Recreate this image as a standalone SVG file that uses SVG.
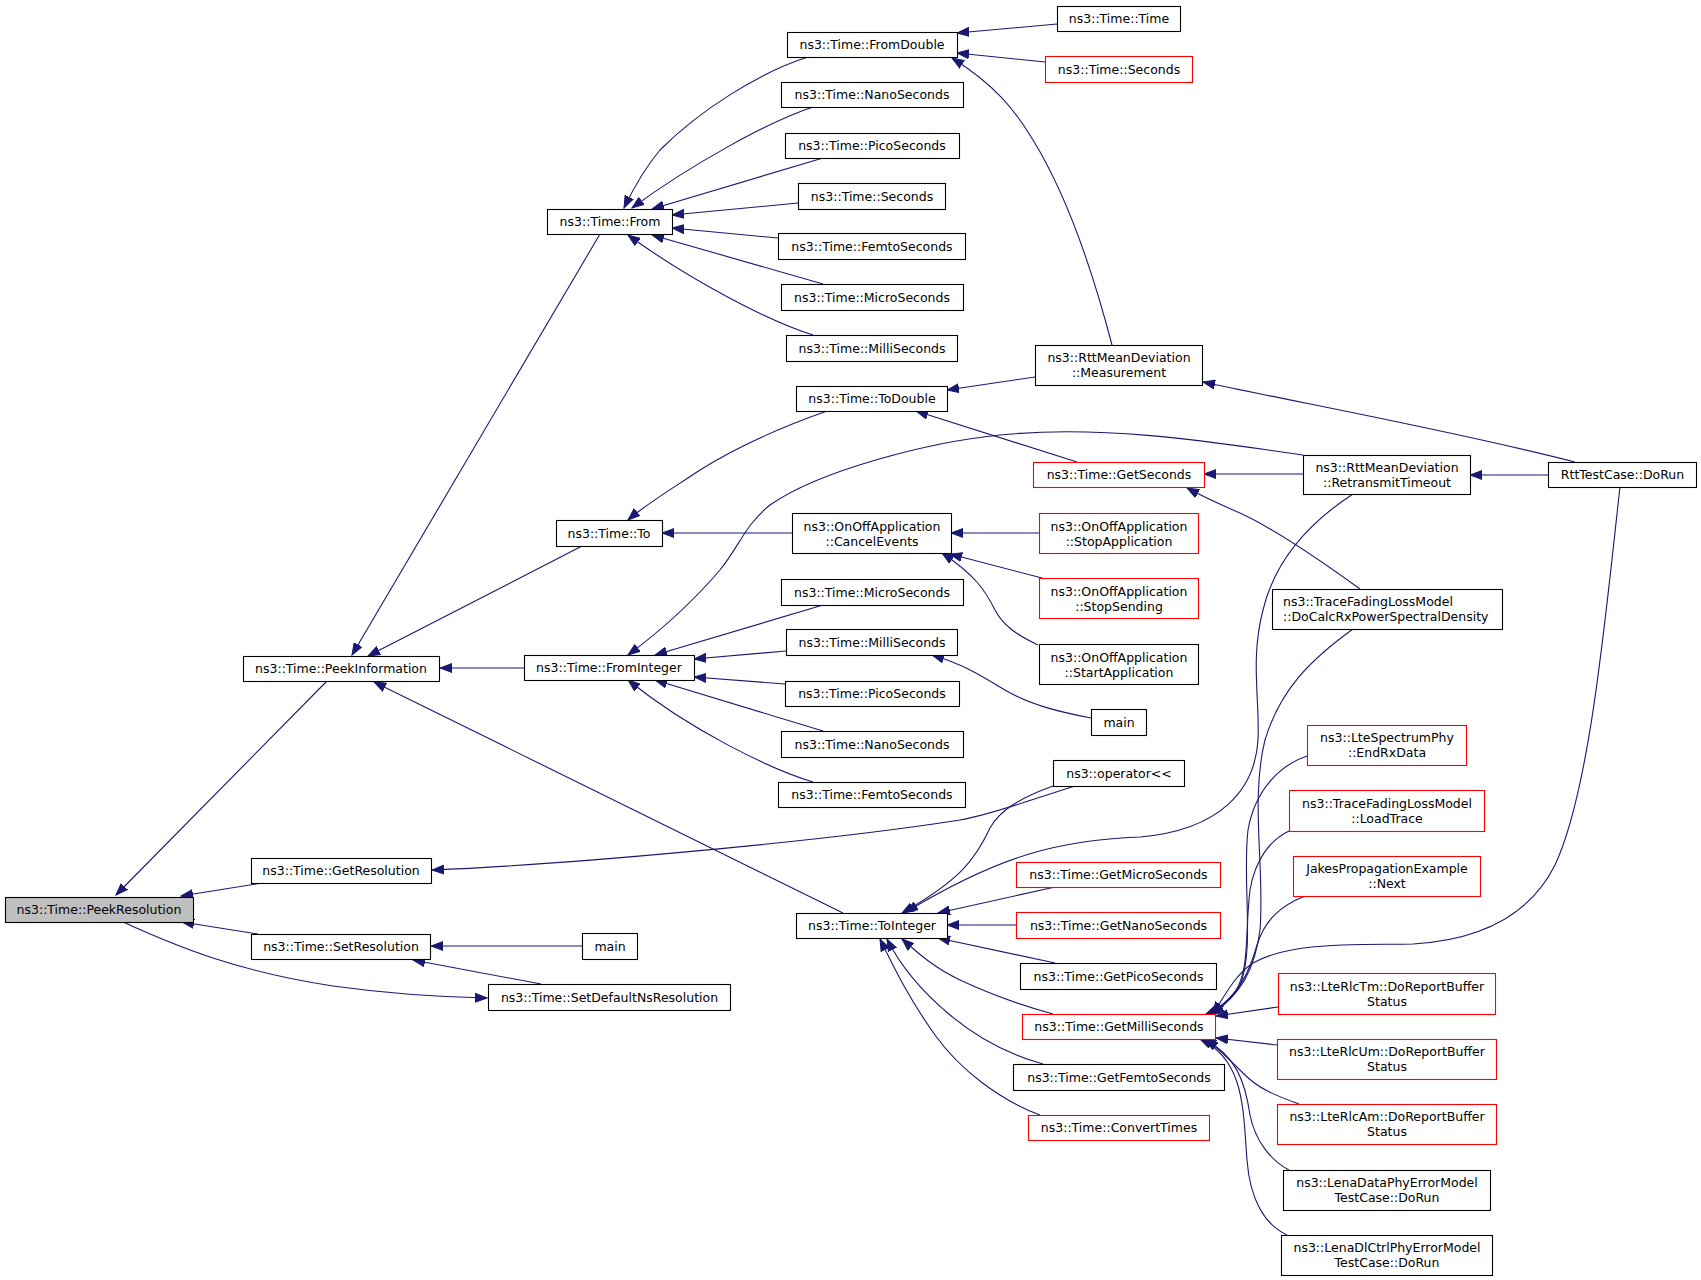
<svg xmlns="http://www.w3.org/2000/svg" width="1701" height="1280" viewBox="0 0 1701 1280">
<style>
.n rect{fill:#fff;stroke:#000;stroke-width:1.1}
.n.r rect{stroke:#ff0000}
.n.g rect{fill:#bfbfbf}
text{font-family:"DejaVu Sans",sans-serif;font-size:12.5px;text-anchor:middle;fill:#000}
text.l{text-anchor:start}
#edges path{fill:none;stroke:#191970;stroke-width:1.1;marker-end:url(#a)}
</style>
<defs>
<marker id="a" markerUnits="userSpaceOnUse" markerWidth="13" markerHeight="10" viewBox="0 0 13 10" refX="12" refY="5" orient="auto"><path d="M0,0.5 L12,5 L0,9.5 z" fill="#191970" stroke="#191970" stroke-width="1"/></marker>
</defs>
<rect width="1701" height="1280" fill="#fff"/>
<g id="edges">
<path d="M327,681 L116,895"/>
<path d="M262,883 L181,896"/>
<path d="M258,934 L182,922"/>
<path d="M123,922 C180,948 240,972 333,986 C390,994 440,997 487,998"/>
<path d="M582,946 L431,946"/>
<path d="M541,984 L413,960"/>
<path d="M1075,786 C1030,800 990,815 960,820 C820,842 560,865 432,870"/>
<path d="M600,234 L352,655"/>
<path d="M582,546 L368,656"/>
<path d="M524,668 L440,668"/>
<path d="M843,913 L374,682"/>
<path d="M808,57 C760,72 700,110 660,150 C645,168 635,185 624,208"/>
<path d="M813,107 C770,121 690,165 632,208"/>
<path d="M823,158 L652,209"/>
<path d="M798,203 L672,215"/>
<path d="M778,238 L672,228"/>
<path d="M823,284 L652,235"/>
<path d="M813,335 C770,322 690,280 628,235"/>
<path d="M1057,24 L957,33"/>
<path d="M1045,62 L957,53"/>
<path d="M1112,345 C1095,280 1070,200 1033,140 C1015,110 995,85 952,58"/>
<path d="M827,411 C790,424 740,445 700,470 C670,490 645,505 628,520"/>
<path d="M792,533 L662,533"/>
<path d="M1035,377 L947,390"/>
<path d="M1077,462 L916,411"/>
<path d="M1303,455 C1200,440 1100,425 1000,435 C930,442 820,470 770,505 C745,525 740,545 720,570 C690,605 655,635 628,655"/>
<path d="M823,605 L655,655"/>
<path d="M786,651 L694,659"/>
<path d="M785,684 L694,677"/>
<path d="M823,731 L655,680"/>
<path d="M813,782 C770,769 690,730 628,680"/>
<path d="M1039,533 L951,533"/>
<path d="M1042,578 L950,554"/>
<path d="M1038,645 C1015,634 1003,625 995,610 C985,590 975,575 942,553"/>
<path d="M1091,718 C1060,712 1030,705 1005,690 C980,675 965,665 932,655"/>
<path d="M1575,462 C1450,430 1300,403 1203,382"/>
<path d="M1303,474 L1204,474"/>
<path d="M1360,589 C1320,560 1270,525 1233,510 C1215,502 1200,495 1187,488"/>
<path d="M1548,475 L1470,475"/>
<path d="M1053,786 C1020,798 1000,810 990,828 C975,860 960,880 902,913"/>
<path d="M1353,494 C1310,522 1275,560 1263,610 C1250,660 1260,700 1258,740 C1255,790 1220,830 1140,837 C1060,840 1000,855 906,912"/>
<path d="M1055,887 L938,913"/>
<path d="M1016,925 L947,925"/>
<path d="M1055,963 L938,938"/>
<path d="M1053,1014 C1020,1005 990,994 960,980 C935,968 920,955 902,939"/>
<path d="M1043,1064 C1010,1055 980,1040 950,1015 C920,990 900,965 887,939"/>
<path d="M1040,1115 C1000,1100 960,1070 935,1035 C910,1000 895,970 880,939"/>
<path d="M1307,756 C1280,765 1255,790 1248,830 C1242,880 1255,950 1240,985 C1230,1000 1220,1008 1208,1014"/>
<path d="M1289,831 C1270,840 1255,860 1250,890 C1245,930 1250,970 1235,992 C1228,1002 1218,1009 1206,1014"/>
<path d="M1305,896 C1280,906 1265,920 1257,945 C1250,970 1240,995 1210,1014"/>
<path d="M1620,487 C1605,620 1590,790 1555,865 C1530,915 1480,940 1413,944 C1350,945 1290,942 1253,963 C1235,975 1225,995 1213,1014"/>
<path d="M1278,1007 L1216,1016"/>
<path d="M1277,1045 L1216,1038"/>
<path d="M1299,1104 C1280,1097 1260,1090 1245,1075 C1230,1060 1220,1050 1206,1039"/>
<path d="M1289,1170 C1270,1160 1255,1140 1250,1115 C1245,1080 1235,1055 1204,1039"/>
<path d="M1287,1235 C1265,1225 1250,1200 1247,1160 C1243,1110 1245,1060 1200,1039"/>
<path d="M1353,629 C1310,660 1280,690 1265,740 C1250,800 1265,870 1260,930 C1255,970 1240,995 1212,1014"/>
</g>
<g id="n1" class="n g"><rect x="5.5" y="897.5" width="188" height="25"/><text x="99" y="914">ns3::Time::PeekResolution</text></g>
<g id="n2" class="n"><rect x="243.5" y="656.5" width="196" height="25"/><text x="341" y="673">ns3::Time::PeekInformation</text></g>
<g id="n3" class="n"><rect x="251.5" y="858.5" width="180" height="25"/><text x="341" y="875">ns3::Time::GetResolution</text></g>
<g id="n4" class="n"><rect x="251.5" y="934.5" width="179" height="25"/><text x="341" y="951">ns3::Time::SetResolution</text></g>
<g id="n5" class="n"><rect x="547.5" y="209.5" width="125" height="25"/><text x="610" y="226">ns3::Time::From</text></g>
<g id="n6" class="n"><rect x="556.5" y="520.5" width="106" height="26"/><text x="609" y="537.5">ns3::Time::To</text></g>
<g id="n7" class="n"><rect x="524.5" y="655.5" width="170" height="25"/><text x="609" y="672">ns3::Time::FromInteger</text></g>
<g id="n8" class="n"><rect x="796.5" y="913.5" width="151" height="25"/><text x="872" y="930">ns3::Time::ToInteger</text></g>
<g id="n9" class="n"><rect x="582.5" y="933.5" width="55" height="26"/><text x="610" y="950.5">main</text></g>
<g id="n10" class="n"><rect x="488.5" y="984.5" width="242" height="26"/><text x="609.5" y="1001.5">ns3::Time::SetDefaultNsResolution</text></g>
<g id="n11" class="n"><rect x="787.5" y="32.5" width="170" height="25"/><text x="872" y="49">ns3::Time::FromDouble</text></g>
<g id="n12" class="n"><rect x="781.5" y="82.5" width="182" height="25"/><text x="872" y="99">ns3::Time::NanoSeconds</text></g>
<g id="n13" class="n"><rect x="785.5" y="133.5" width="174" height="25"/><text x="872" y="150">ns3::Time::PicoSeconds</text></g>
<g id="n14" class="n"><rect x="798.5" y="183.5" width="147" height="26"/><text x="872" y="200.5">ns3::Time::Seconds</text></g>
<g id="n15" class="n"><rect x="778.5" y="233.5" width="187" height="26"/><text x="872" y="250.5">ns3::Time::FemtoSeconds</text></g>
<g id="n16" class="n"><rect x="781.5" y="284.5" width="182" height="26"/><text x="872" y="301.5">ns3::Time::MicroSeconds</text></g>
<g id="n17" class="n"><rect x="786.5" y="335.5" width="171" height="26"/><text x="872" y="352.5">ns3::Time::MilliSeconds</text></g>
<g id="n18" class="n"><rect x="796.5" y="386.5" width="151" height="25"/><text x="872" y="403">ns3::Time::ToDouble</text></g>
<g id="n19" class="n"><rect x="792.5" y="513.5" width="159" height="40"/><text x="872" y="530.5">ns3::OnOffApplication</text><text x="872" y="545.5">::CancelEvents</text></g>
<g id="n20" class="n"><rect x="781.5" y="579.5" width="182" height="26"/><text x="872" y="596.5">ns3::Time::MicroSeconds</text></g>
<g id="n21" class="n"><rect x="786.5" y="629.5" width="171" height="26"/><text x="872" y="646.5">ns3::Time::MilliSeconds</text></g>
<g id="n22" class="n"><rect x="785.5" y="681.5" width="174" height="25"/><text x="872" y="698">ns3::Time::PicoSeconds</text></g>
<g id="n23" class="n"><rect x="781.5" y="731.5" width="182" height="26"/><text x="872" y="748.5">ns3::Time::NanoSeconds</text></g>
<g id="n24" class="n"><rect x="778.5" y="782.5" width="187" height="25"/><text x="872" y="799">ns3::Time::FemtoSeconds</text></g>
<g id="n25" class="n"><rect x="1057.5" y="6.5" width="123" height="25"/><text x="1119" y="23">ns3::Time::Time</text></g>
<g id="n26" class="n r"><rect x="1045.5" y="56.5" width="147" height="26"/><text x="1119" y="73.5">ns3::Time::Seconds</text></g>
<g id="n27" class="n"><rect x="1035.5" y="345.5" width="167" height="40"/><text x="1119" y="362">ns3::RttMeanDeviation</text><text x="1119" y="377">::Measurement</text></g>
<g id="n28" class="n r"><rect x="1033.5" y="462.5" width="171" height="25"/><text x="1119" y="479">ns3::Time::GetSeconds</text></g>
<g id="n29" class="n r"><rect x="1039.5" y="513.5" width="159" height="40"/><text x="1119" y="530.5">ns3::OnOffApplication</text><text x="1119" y="545.5">::StopApplication</text></g>
<g id="n30" class="n r"><rect x="1039.5" y="578.5" width="159" height="40"/><text x="1119" y="595.5">ns3::OnOffApplication</text><text x="1119" y="610.5">::StopSending</text></g>
<g id="n31" class="n"><rect x="1039.5" y="644.5" width="159" height="40"/><text x="1119" y="661.5">ns3::OnOffApplication</text><text x="1119" y="676.5">::StartApplication</text></g>
<g id="n32" class="n"><rect x="1091.5" y="709.5" width="55" height="26"/><text x="1119" y="726.5">main</text></g>
<g id="n33" class="n"><rect x="1053.5" y="760.5" width="131" height="26"/><text x="1119" y="777.5">ns3::operator&lt;&lt;</text></g>
<g id="n34" class="n r"><rect x="1016.5" y="862.5" width="204" height="25"/><text x="1118.5" y="879">ns3::Time::GetMicroSeconds</text></g>
<g id="n35" class="n r"><rect x="1016.5" y="912.5" width="204" height="26"/><text x="1118.5" y="929.5">ns3::Time::GetNanoSeconds</text></g>
<g id="n36" class="n"><rect x="1020.5" y="963.5" width="196" height="26"/><text x="1118.5" y="980.5">ns3::Time::GetPicoSeconds</text></g>
<g id="n37" class="n r"><rect x="1022.5" y="1014.5" width="193" height="25"/><text x="1119" y="1031">ns3::Time::GetMilliSeconds</text></g>
<g id="n38" class="n"><rect x="1013.5" y="1064.5" width="211" height="26"/><text x="1119" y="1081.5">ns3::Time::GetFemtoSeconds</text></g>
<g id="n39" class="n r"><rect x="1028.5" y="1115.5" width="181" height="25"/><text x="1119" y="1132">ns3::Time::ConvertTimes</text></g>
<g id="n40" class="n"><rect x="1303.5" y="455.5" width="167" height="39"/><text x="1387" y="472">ns3::RttMeanDeviation</text><text x="1387" y="487">::RetransmitTimeout</text></g>
<g id="n41" class="n"><rect x="1272.5" y="589.5" width="230" height="40"/><text class="l" x="1283" y="606">ns3::TraceFadingLossModel</text><text class="l" x="1283" y="621">::DoCalcRxPowerSpectralDensity</text></g>
<g id="n42" class="n r"><rect x="1307.5" y="725.5" width="159" height="40"/><text x="1387" y="742">ns3::LteSpectrumPhy</text><text x="1387" y="757">::EndRxData</text></g>
<g id="n43" class="n r"><rect x="1289.5" y="790.5" width="195" height="41"/><text x="1387" y="807.5">ns3::TraceFadingLossModel</text><text x="1387" y="822.5">::LoadTrace</text></g>
<g id="n44" class="n r"><rect x="1293.5" y="856.5" width="187" height="40"/><text x="1387" y="873">JakesPropagationExample</text><text x="1387" y="888">::Next</text></g>
<g id="n45" class="n r"><rect x="1278.5" y="973.5" width="217" height="41"/><text x="1387" y="990.5">ns3::LteRlcTm::DoReportBuffer</text><text x="1387" y="1005.5">Status</text></g>
<g id="n46" class="n r"><rect x="1277.5" y="1039.5" width="219" height="40"/><text x="1387" y="1056">ns3::LteRlcUm::DoReportBuffer</text><text x="1387" y="1071">Status</text></g>
<g id="n47" class="n r"><rect x="1277.5" y="1104.5" width="219" height="40"/><text x="1387" y="1121">ns3::LteRlcAm::DoReportBuffer</text><text x="1387" y="1136">Status</text></g>
<g id="n48" class="n"><rect x="1283.5" y="1170.5" width="207" height="40"/><text x="1387" y="1187">ns3::LenaDataPhyErrorModel</text><text x="1387" y="1202">TestCase::DoRun</text></g>
<g id="n49" class="n"><rect x="1281.5" y="1235.5" width="211" height="40"/><text x="1387" y="1252">ns3::LenaDlCtrlPhyErrorModel</text><text x="1387" y="1267">TestCase::DoRun</text></g>
<g id="n50" class="n"><rect x="1548.5" y="462.5" width="148" height="25"/><text x="1622.5" y="479">RttTestCase::DoRun</text></g>
</svg>
